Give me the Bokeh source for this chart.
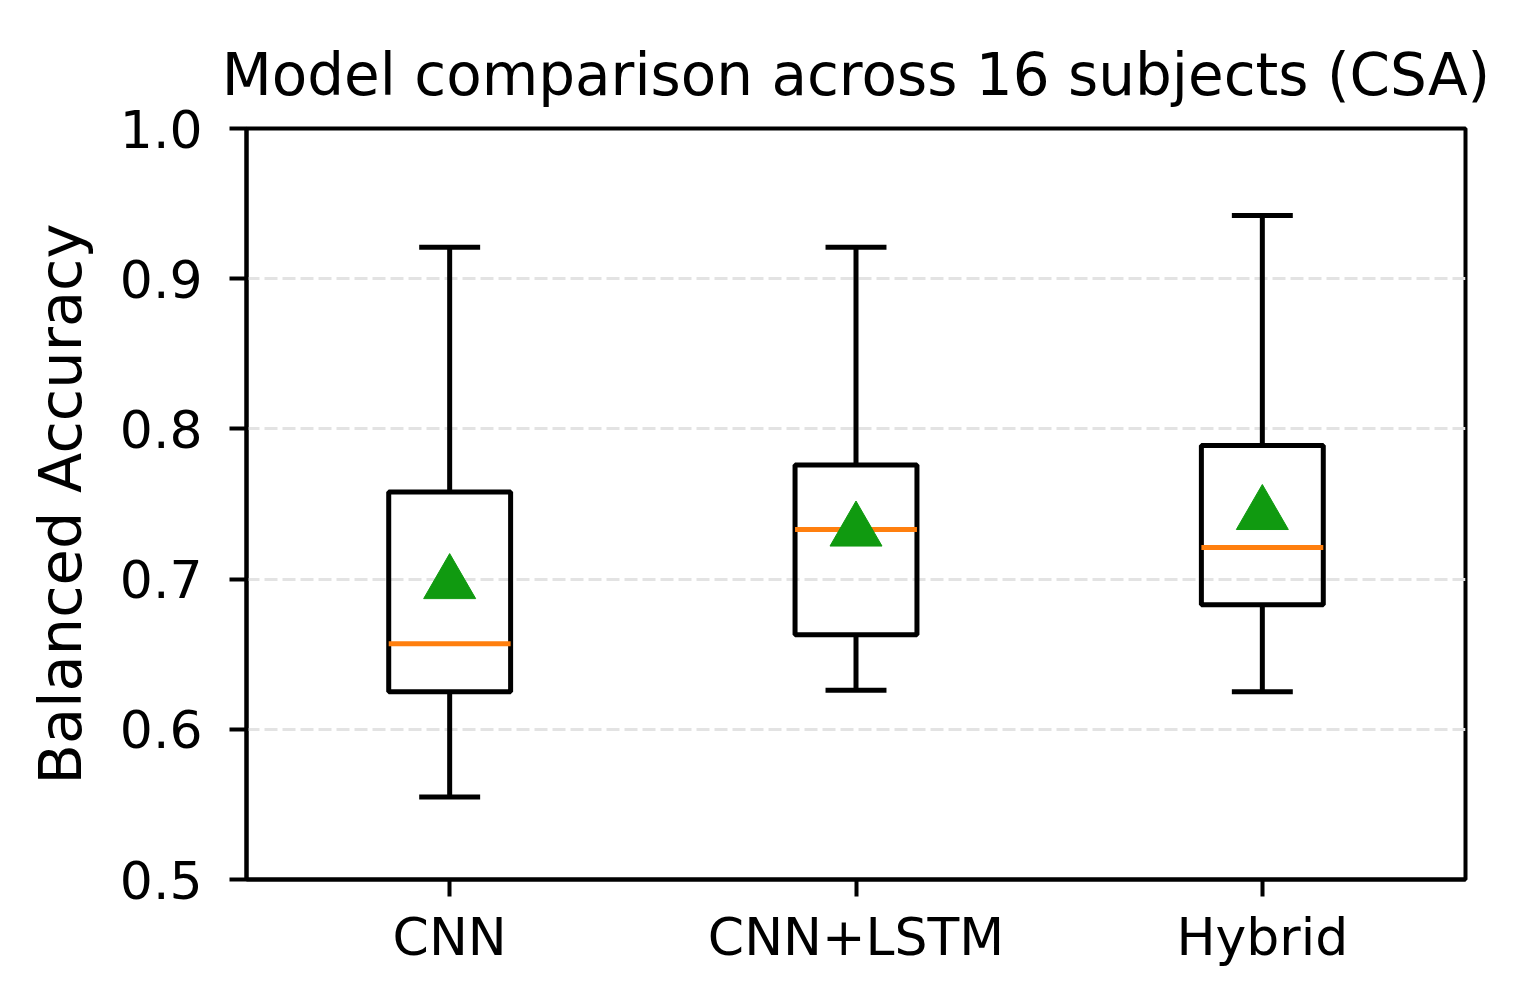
from bokeh.plotting import figure
from bokeh.models import Range1d, FixedTicker, ColumnDataSource
from bokeh.embed import file_html
from bokeh.resources import INLINE

# ---- data ----
categories = ["CNN", "CNN+LSTM", "Hybrid"]
whisker_low = [0.555, 0.626, 0.625]
q1 = [0.625, 0.663, 0.683]
median = [0.657, 0.733, 0.721]
q3 = [0.758, 0.776, 0.789]
whisker_high = [0.921, 0.921, 0.942]
mean = [0.697, 0.732, 0.743]
y_ticks = [0.5, 0.6, 0.7, 0.8, 0.9, 1.0]

FONT = "DejaVu Sans"
pos = [i + 1 for i in range(len(categories))]
box_w = 0.3
cap_w = 0.15

src = ColumnDataSource(dict(
    x=pos,
    lo=whisker_low, q1=q1, med=median, q3=q3, hi=whisker_high, mean=mean,
    bl=[x - box_w / 2 for x in pos], br=[x + box_w / 2 for x in pos],
    cl=[x - cap_w / 2 for x in pos], cr=[x + cap_w / 2 for x in pos],
))

p = figure(width=1512, height=983, output_backend="svg", toolbar_location=None,
           x_range=Range1d(0.5, 3.5), y_range=Range1d(0.5, 1.0),
           title="Model comparison across 16 subjects (CSA)")
p.min_border_left = 246
p.min_border_right = 47
p.min_border_top = 128
p.min_border_bottom = 104

p.title.text_font = FONT
p.title.text_font_size = "58px"
p.title.text_font_style = "normal"
p.title.align = "center"
p.title.standoff = 40
p.title.text_color = "black"

p.outline_line_color = "black"
p.outline_line_width = 4
p.background_fill_color = "white"
p.border_fill_color = "white"

# grid
p.xgrid.visible = False
p.ygrid.ticker = FixedTicker(ticks=y_ticks)
p.ygrid.grid_line_color = "#e3e3e3"
p.ygrid.grid_line_width = 3
p.ygrid.grid_line_dash = "13 5"

# axes
for ax in (p.xaxis[0], p.yaxis[0]):
    ax.axis_line_color = "black"
    ax.axis_line_width = 4
    ax.major_tick_line_color = "black"
    ax.major_tick_line_width = 4
    ax.major_tick_out = 17
    ax.major_tick_in = 0
    ax.minor_tick_line_color = None
    ax.major_label_text_font = FONT
    ax.major_label_text_font_size = "52px"
    ax.major_label_text_color = "black"

p.xaxis.major_label_standoff = 10
p.yaxis.major_label_standoff = 27

p.xaxis.ticker = FixedTicker(ticks=pos)
p.xaxis.major_label_overrides = {x: c for x, c in zip(pos, categories)}
p.yaxis.ticker = FixedTicker(ticks=y_ticks)
p.yaxis.major_label_overrides = {t: f"{t:.1f}" for t in y_ticks}
p.yaxis.axis_label = "Balanced Accuracy"
p.yaxis.axis_label_text_font = FONT
p.yaxis.axis_label_text_font_size = "59px"
p.yaxis.axis_label_text_font_style = "normal"
p.yaxis.axis_label_text_color = "black"
p.yaxis.axis_label_standoff = 22

# whiskers
p.segment(x0="x", y0="q3", x1="x", y1="hi", source=src, line_color="black", line_width=5)
p.segment(x0="x", y0="lo", x1="x", y1="q1", source=src, line_color="black", line_width=5)
# caps
p.segment(x0="cl", y0="hi", x1="cr", y1="hi", source=src, line_color="black", line_width=5)
p.segment(x0="cl", y0="lo", x1="cr", y1="lo", source=src, line_color="black", line_width=5)
# boxes
p.quad(left="bl", right="br", bottom="q1", top="q3", source=src,
       fill_alpha=0, line_color="black", line_width=5)
# medians
p.segment(x0="bl", y0="med", x1="br", y1="med", source=src, line_color="#ff7f0e", line_width=5)
# means
p.scatter(x="x", y="mean", source=src, marker="triangle", size=52,
          fill_color="#109a10", line_color="#109a10", line_width=1)

open("out.html", "w").write(file_html(p, INLINE))
